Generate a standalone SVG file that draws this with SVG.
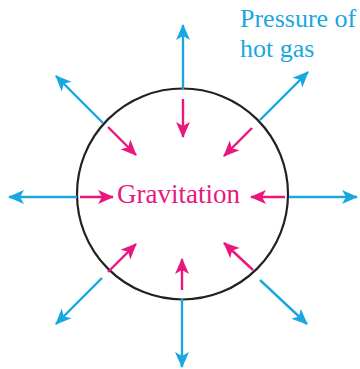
<svg xmlns="http://www.w3.org/2000/svg" width="360" height="369" viewBox="0 0 360 369">
<style>
.blue{stroke:#1aa7df;stroke-width:2.4;fill:none;marker-end:url(#hb)}
.pink{stroke:#e8187e;stroke-width:2.4;fill:none;marker-end:url(#hp)}
.lbl-b{font-family:"Liberation Serif","Times New Roman",serif;font-size:26px;fill:#1aa7df}
.lbl-p{font-family:"Liberation Serif","Times New Roman",serif;font-size:27px;fill:#e8187e}
</style>
<defs>
<marker id="hb" markerUnits="userSpaceOnUse" markerWidth="18" markerHeight="18" viewBox="0 0 18 18" refX="16" refY="9" orient="auto">
<path d="M1,2 L17,9 L1,16 L5,9 Z" fill="#1aa7df"/>
</marker>
<marker id="hp" markerUnits="userSpaceOnUse" markerWidth="18" markerHeight="18" viewBox="0 0 18 18" refX="16" refY="9" orient="auto">
<path d="M1,2 L17,9 L1,16 L5,9 Z" fill="#e8187e"/>
</marker>
</defs>
<rect width="360" height="369" fill="#ffffff"/>
<g id="star">
<circle cx="182.5" cy="194" r="105.5" fill="none" stroke="#222222" stroke-width="2.2"/>
</g>
<g id="connectors">
<line class="blue" x1="183" y1="89" x2="183" y2="25"/>
<line class="blue" x1="182" y1="299" x2="182" y2="367"/>
<line class="blue" x1="77" y1="197" x2="9" y2="197"/>
<line class="blue" x1="289" y1="197" x2="357" y2="197"/>
<line class="blue" x1="103" y1="123" x2="56" y2="76"/>
<line class="blue" x1="260" y1="120" x2="308" y2="72"/>
<line class="blue" x1="102" y1="278" x2="56" y2="324"/>
<line class="blue" x1="260" y1="280" x2="307" y2="324"/>
<line class="pink" x1="183" y1="99" x2="183" y2="137"/>
<line class="pink" x1="182" y1="290" x2="182" y2="259"/>
<line class="pink" x1="80" y1="197" x2="113" y2="197"/>
<line class="pink" x1="285" y1="197" x2="251" y2="197"/>
<line class="pink" x1="108" y1="127" x2="136" y2="155"/>
<line class="pink" x1="252" y1="128" x2="224" y2="156"/>
<line class="pink" x1="108" y1="272" x2="136" y2="244"/>
<line class="pink" x1="253" y1="270" x2="224" y2="243"/>
</g>
<g id="label-gravitation">
<text class="lbl-p" x="117" y="203" font-family="Liberation Serif, serif">Gravitation</text>
</g>
<g id="label-pressure">
<text class="lbl-b" x="240" y="27" font-family="Liberation Serif, serif">Pressure of</text>
<text class="lbl-b" x="240" y="57" font-family="Liberation Serif, serif">hot gas</text>
</g>
</svg>
